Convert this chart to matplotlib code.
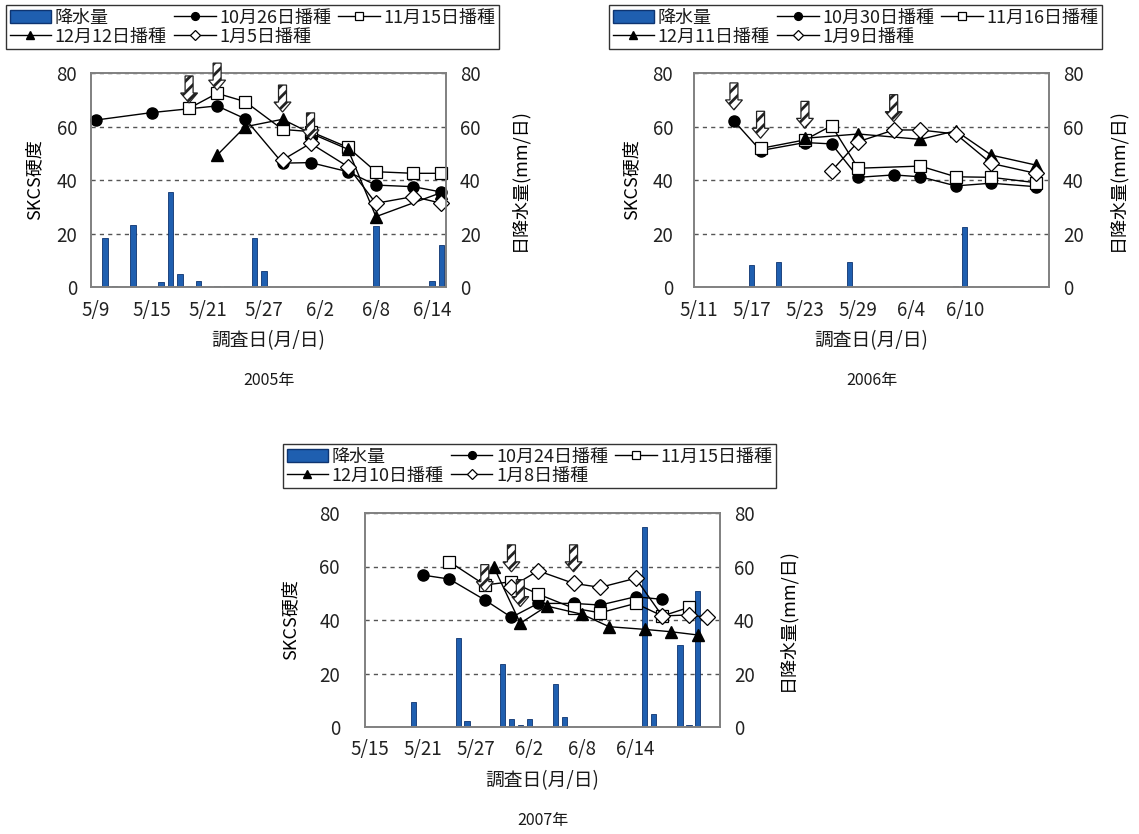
import matplotlib
matplotlib.use("Agg")
import matplotlib.pyplot as plt
from matplotlib.patches import FancyArrow, Patch
from matplotlib.lines import Line2D

plt.rcParams['font.family'] = ['Noto Sans CJK JP', 'DejaVu Sans']
plt.rcParams['hatch.linewidth'] = 2.0
plt.rcParams['text.color'] = '#1a1a1a'

# 日付は5月の通し日 (5/1=1, 6/1=32)
# --- 2005年 ---
ticks_05 = ["5/9", "5/15", "5/21", "5/27", "6/2", "6/8", "6/14"]
rain_day_05 = [10, 11, 13, 16, 17, 18, 19, 20, 22, 23, 26, 27, 39, 45, 46]
rain_05 = [18.2, 0.3, 23.2, 2.0, 35.6, 4.7, 0.4, 2.4, 0.3, 0.3, 18.2, 6.0, 22.8, 2.2, 15.7]
sow_05 = ["10月26日播種", "11月15日播種", "12月12日播種", "1月5日播種"]
day_a_05 = [9, 15, 22, 25, 29, 32, 36, 39, 43, 46]
skcs_a_05 = [62.4, 65.2, 67.7, 62.9, 46.3, 46.5, 43.1, 38.1, 37.5, 35.5]
day_b_05 = [19, 22, 25, 29, 32, 36, 39, 43, 46]
skcs_b_05 = [66.8, 72.4, 69.3, 58.9, 58.1, 52.2, 43.1, 42.5, 42.5]
day_c_05 = [22, 25, 29, 32, 36, 39, 46]
skcs_c_05 = [49.3, 59.9, 62.7, 57.5, 51.5, 26.3, 35.3]
day_d_05 = [29, 32, 36, 39, 43, 46]
skcs_d_05 = [47.5, 53.7, 45.0, 31.3, 33.8, 31.3]
arrow_day_05 = [19, 22, 29, 32]
arrow_tip_05 = [68.8, 73.6, 65.4, 55.0]

# --- 2006年 ---
ticks_06 = ["5/11", "5/17", "5/23", "5/29", "6/4", "6/10"]
rain_day_06 = [17, 20, 28, 40, 41]
rain_06 = [8.2, 9.5, 9.5, 0.3, 22.5]
sow_06 = ["10月30日播種", "11月16日播種", "12月11日播種", "1月9日播種"]
day_a_06 = [15, 18, 23, 26, 29, 33, 36, 40, 44, 49]
skcs_a_06 = [62.1, 51.0, 54.0, 53.5, 41.0, 41.9, 41.2, 37.8, 38.8, 37.5]
day_b_06 = [18, 23, 26, 29, 36, 40, 44, 49]
skcs_b_06 = [51.8, 55.0, 60.3, 44.4, 45.2, 41.2, 41.0, 39.0]
day_c_06 = [23, 29, 36, 40, 44, 49]
skcs_c_06 = [55.6, 57.2, 55.2, 58.4, 49.3, 45.6]
day_d_06 = [26, 29, 33, 36, 40, 44, 49]
skcs_d_06 = [43.4, 54.3, 58.7, 58.7, 57.2, 46.2, 42.5]
arrow_day_06 = [15, 18, 23, 33]
arrow_tip_06 = [66.2, 55.6, 59.3, 61.8]

# --- 2007年 ---
ticks_07 = ["5/15", "5/21", "5/27", "6/2", "6/8", "6/14"]
rain_day_07 = [20, 25, 26, 30, 31, 32, 33, 36, 37, 46, 47, 50, 51, 52]
rain_07 = [9.5, 33.4, 2.4, 23.5, 3.0, 0.7, 3.0, 16.1, 3.6, 74.6, 4.7, 30.6, 0.7, 51.0]
sow_07 = ["10月24日播種", "11月15日播種", "12月10日播種", "1月8日播種"]
day_a_07 = [21, 24, 28, 31, 34, 38, 41, 45, 48]
skcs_a_07 = [56.8, 55.3, 47.5, 41.0, 46.2, 46.2, 45.6, 48.7, 47.7]
day_b_07 = [24, 28, 31, 34, 38, 41, 45, 48, 51]
skcs_b_07 = [61.8, 53.1, 54.3, 49.7, 44.4, 42.7, 46.2, 41.5, 44.7]
day_c_07 = [29, 32, 35, 39, 42, 46, 49, 52]
skcs_c_07 = [59.9, 38.8, 45.2, 42.1, 37.5, 36.5, 35.6, 34.4]
day_d_07 = [31, 34, 38, 41, 45, 48, 51, 53]
skcs_d_07 = [52.4, 58.4, 53.7, 52.2, 55.6, 41.5, 41.9, 41.0]
arrow_day_07 = [28, 31, 32, 38]
arrow_tip_07 = [50.6, 58.0, 45.0, 58.0]

FIG_W, FIG_H = 1139, 834
AX_W, AX_H = 355, 214
BAR = "#1f5fb0"
BAR_EDGE = "#0e3470"

styles = [
    dict(marker="o", ms=8, mfc="black", mec="black"),
    dict(marker="s", ms=9, mfc="white", mec="black", mew=0.9),
    dict(marker="^", ms=9, mfc="black", mec="black"),
    dict(marker="D", ms=8, mfc="white", mec="black", mew=0.9),
]

fig = plt.figure(figsize=(FIG_W / 100, FIG_H / 100), dpi=100)


def to_day(label):
    m, d = label.split("/")
    return int(d) + (31 if m == "6" else 0)


def panel(left, top, xlim, ticks, rain_day, rain, series, sow, arrows, year,
          leg_pos, lab_x, lpad):
    ax = fig.add_axes([left / FIG_W, 1 - (top + AX_H) / FIG_H, AX_W / FIG_W, AX_H / FIG_H])
    axr = ax.twinx()
    ax.set_zorder(axr.get_zorder() + 1)
    ax.patch.set_visible(False)

    # 降水量 (右軸)
    axr.set_axisbelow(True)
    axr.bar(rain_day, rain, width=0.6, color=BAR, edgecolor=BAR_EDGE, lw=0.6)
    axr.yaxis.grid(True, linestyle=(0, (3, 3)), color="#555555", lw=1)

    # SKCS硬度 (左軸)
    handles = []
    for (days, vals), st in zip(series, styles):
        ax.plot(days, vals, color="black", lw=1, clip_on=False, **st)
        h = dict(st)
        h["ms"] = st["ms"] * 0.7
        handles.append(Line2D([], [], color="black", lw=1, **h))

    px_x = (xlim[1] - xlim[0]) / AX_W
    px_y = 80 / AX_H
    for d, tip in zip(*arrows):
        length = 27 * px_y
        ax.add_patch(FancyArrow(d, tip + length, 0, -length, width=8 * px_x,
                                head_width=17 * px_x, head_length=10 * px_y,
                                length_includes_head=True, facecolor="white",
                                edgecolor="#222222", hatch="///", lw=0.9,
                                zorder=6, clip_on=False))

    for a in (ax, axr):
        a.set_xlim(*xlim)
        a.set_ylim(0, 80)
        a.set_yticks([0, 20, 40, 60, 80])
        for s in a.spines.values():
            s.set_color("#808080")
            s.set_linewidth(1.2)
    ax.set_xticks([to_day(t) for t in ticks])
    ax.set_xticklabels(ticks)
    ax.tick_params(axis="x", length=0, pad=9, labelsize=13.5, labelcolor="#222222")
    ax.tick_params(axis="y", length=0, pad=lpad, labelsize=13.5, labelcolor="#222222")
    axr.tick_params(axis="y", length=0, pad=10, labelsize=13.5, labelcolor="#222222")

    ax.set_ylabel("SKCS硬度", fontsize=13)
    ax.yaxis.set_label_coords(lab_x[0], 0.5)
    axr.set_ylabel("日降水量(mm/日)", fontsize=13)
    axr.yaxis.set_label_coords(lab_x[1], 0.5)

    cx = (left + AX_W / 2) / FIG_W
    fig.text(cx, 1 - (top + 268) / FIG_H, "調査日(月/日)", ha="center", va="center", fontsize=13.5)
    fig.text(cx, 1 - (top + 307) / FIG_H, year, ha="center", va="center", fontsize=11.5)

    rain_h = Patch(facecolor=BAR, edgecolor=BAR_EDGE)
    leg = fig.legend([rain_h, handles[2], handles[0], handles[3], handles[1]],
                     ["降水量", sow[2], sow[0], sow[3], sow[1]],
                     ncol=3, loc="upper left",
                     bbox_to_anchor=(leg_pos[0] / FIG_W, 1 - leg_pos[1] / FIG_H),
                     frameon=True, fancybox=False, edgecolor="black", fontsize=13,
                     handlelength=2.3, handletextpad=0.2, columnspacing=0.4,
                     labelspacing=0.05, borderpad=0.2, borderaxespad=0)
    leg.get_frame().set_linewidth(1)


panel(91, 73, (8.5, 46.5), ticks_05, rain_day_05, rain_05,
      [(day_a_05, skcs_a_05), (day_b_05, skcs_b_05), (day_c_05, skcs_c_05), (day_d_05, skcs_d_05)],
      sow_05, (arrow_day_05, arrow_tip_05), "2005年", (6, 5), (-0.135, 1.18), 10)

panel(694, 73, (10.5, 50.5), ticks_06, rain_day_06, rain_06,
      [(day_a_06, skcs_a_06), (day_b_06, skcs_b_06), (day_c_06, skcs_c_06), (day_d_06, skcs_d_06)],
      sow_06, (arrow_day_06, arrow_tip_06), "2006年", (609, 5), (-0.152, 1.166), 15)

panel(365, 513, (14.5, 54.5), ticks_07, rain_day_07, rain_07,
      [(day_a_07, skcs_a_07), (day_b_07, skcs_b_07), (day_c_07, skcs_c_07), (day_d_07, skcs_d_07)],
      sow_07, (arrow_day_07, arrow_tip_07), "2007年", (283, 444), (-0.185, 1.163), 18)

fig.savefig("out.png", dpi=100)
